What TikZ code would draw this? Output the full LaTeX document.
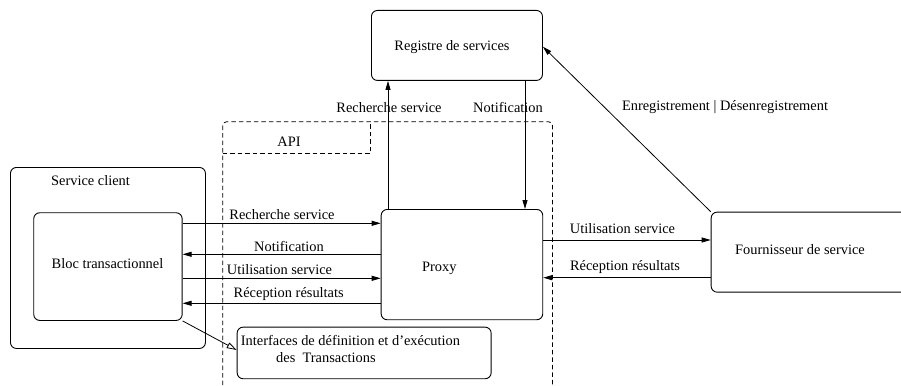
\documentclass[tikz,border=0pt]{standalone}
\usepackage{fontspec}
\setmainfont{Liberation Serif}
\newfontfamily\figfont{Liberation Serif}
\usetikzlibrary{arrows.meta}
\begin{document}
\begin{tikzpicture}[x=1pt,y=-1pt,
  every node/.style={font=\figfont\fontsize{14.4}{17.7}\selectfont},
  box/.style={draw, rounded corners=6pt, line width=0.9pt, inner sep=0pt, anchor=north west},
  txt/.style={inner sep=0pt},
  arr/.style={line width=0.8pt, -{Triangle[length=9pt,width=5pt]}},
  harr/.style={line width=0.8pt, -{Triangle[open,length=10pt,width=6pt]}},
  dsh/.style={line width=0.8pt, dash pattern=on 4.5pt off 3pt}]
\useasboundingbox (0,0) rectangle (901,385);
\clip (0,0) rectangle (901,385);
% boxes
\node[box, minimum width=171pt, minimum height=70pt] (reg) at (371,10) {};
\node[txt] (reglbl) at (452,47) {Registre de services};
\node[box, minimum width=195pt, minimum height=181pt] (client) at (10,167) {};
\node[txt] (clientlbl) at (90.5,181) {Service client};
\node[box, minimum width=148.4pt, minimum height=107.7pt] (bloc) at (33.3,212.3) {};
\node[txt] (bloclbl) at (107.5,263.5) {Bloc transactionnel};
\node[box, minimum width=161.6pt, minimum height=110.3pt] (proxy) at (380.7,209) {};
\node[txt] (proxylbl) at (439.3,268) {Proxy};
\node[box, minimum width=200pt, minimum height=80pt] (fourn) at (710.7,211.7) {};
\node[txt] (fournlbl) at (800,249.3) {Fournisseur de service};
\node[box, minimum width=254pt, minimum height=51.6pt] (intf) at (236.7,326.7) {};
\node[txt, anchor=west] (intf1) at (240.7,340) {Interfaces de définition et d’exécution};
\node[txt, anchor=west] (intf2) at (276,357.7) {des\ \ Transactions};
% API dashed frame
\draw[dsh, rounded corners=4pt] (222.7,400) -- (222.7,121.7) -- (552.5,121.7) -- (552.5,400);
\draw[dsh] (222.7,153.3) -- (370.7,153.3) -- (370.7,121.7);
\node[txt] (api) at (289,141.7) {API};
% registry connectors
\draw[arr] (proxy.north -| 388,0) -- (reg.south -| 388,0);
\node[txt] (l1) at (389,107.3) {Recherche service};
\draw[arr] (reg.south -| 525,0) -- (proxy.north -| 525,0);
\node[txt] (l2) at (508,107.3) {Notification};
\draw[arr] (fourn.north west) -- (reg.east |- 0,46.7);
\node[txt] (l3) at (725,107.3) {Enregistrement | Désenregistrement};
% bloc <-> proxy
\draw[arr] (bloc.east |- 0,223.3) -- (proxy.west |- 0,223.3);
\node[txt] (l4) at (282,214.3) {Recherche service};
\draw[arr] (proxy.west |- 0,254.3) -- (bloc.east |- 0,254.3);
\node[txt] (l5) at (289,246) {Notification};
\draw[arr] (bloc.east |- 0,278.3) -- (proxy.west |- 0,278.3);
\node[txt] (l6) at (279.5,270) {Utilisation service};
\draw[arr] (proxy.west |- 0,303.3) -- (bloc.east |- 0,303.3);
\node[txt] (l7) at (288.7,294.3) {Réception résultats};
% proxy <-> fournisseur
\draw[arr] (proxy.east |- 0,240) -- (fourn.west |- 0,240);
\node[txt] (l8) at (622.5,228.7) {Utilisation service};
\draw[arr] (fourn.west |- 0,277.7) -- (proxy.east |- 0,277.7);
\node[txt] (l9) at (625,266.7) {Réception résultats};
% hollow arrow
\draw[harr] (bloc.south east) -- (intf.west |- 0,350);
\end{tikzpicture}
\end{document}
